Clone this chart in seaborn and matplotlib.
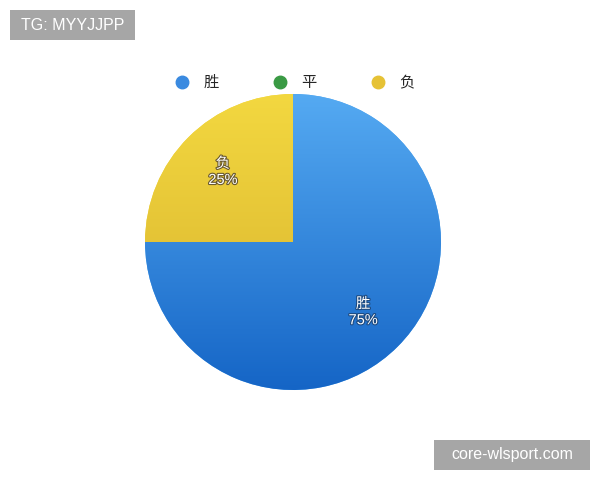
import numpy as np
import matplotlib
matplotlib.use("Agg")
import matplotlib.pyplot as plt
import matplotlib.patheffects as pe
from matplotlib.colors import LinearSegmentedColormap
from matplotlib.lines import Line2D
from matplotlib.patches import Rectangle
import seaborn as sns

# Data
labels = ['胜', '平', '负']
shares = [75, 0, 25]
colors_top = ['#55aaf2', '#3fa34a', '#f3d840']
colors_bottom = ['#1565c6', '#2e8a3a', '#d6b02c']
legend_colors = ['#3a8ae0', '#3a9a44', '#e6c235']

sns.set_theme(style="white")
plt.rcParams['font.family'] = ['Liberation Sans', 'Noto Sans CJK SC', 'DejaVu Sans']

fig = plt.figure(figsize=(6, 4.8), dpi=100)
ax = fig.add_axes([0.2417, 0.1875, 0.4933, 0.6167])

wedges, _ = ax.pie(shares, colors=colors_top, startangle=90, counterclock=False,
                   radius=1, wedgeprops=dict(linewidth=0))
ax.set_xlim(-1, 1)
ax.set_ylim(-1, 1)
ax.set_aspect('equal')
ax.axis('off')

# vertical gradient fill per wedge
grad = np.linspace(0, 1, 256).reshape(-1, 1)
for w, ct, cb, v in zip(wedges, colors_top, colors_bottom, shares):
    if v == 0:
        continue
    cmap = LinearSegmentedColormap.from_list('g', [ct, cb])
    im = ax.imshow(grad, cmap=cmap, extent=(-1, 1, -1, 1), origin='upper',
                   aspect='auto', zorder=2)
    im.set_clip_path(w)

# slice labels
total = sum(shares)
ang = 90.0
for lab, v in zip(labels, shares):
    theta = ang - 360.0 * v / total / 2
    ang -= 360.0 * v / total
    if v == 0:
        continue
    r = 0.67
    x, y = r * np.cos(np.radians(theta)), r * np.sin(np.radians(theta))
    ax.text(x, y, f"{lab}\n{v}%", ha='center', va='center', color='white',
            fontsize=10.5, linespacing=1.2, zorder=5,
            path_effects=[pe.withStroke(linewidth=1.6,
                                        foreground='#6a5a30' if lab == '负' else '#1d4a80')])

# legend
handles = [Line2D([0], [0], marker='o', linestyle='', markersize=9,
                  markerfacecolor=c, markeredgecolor=c) for c in legend_colors]
fig.legend(handles, labels, loc='center', bbox_to_anchor=(0.491, 0.827), ncol=3,
           frameon=False, fontsize=11, columnspacing=3.5, handletextpad=0.9,
           handlelength=1.0)

# watermark boxes
fig.add_artist(Rectangle((10 / 600, 1 - 40 / 480), 125 / 600, 30 / 480,
                         transform=fig.transFigure, facecolor='#a6a6a6', edgecolor='none'))
fig.text(72.5 / 600, 1 - 25 / 480, 'TG: MYYJJPP', color='white', fontsize=11.5,
         ha='center', va='center')
fig.add_artist(Rectangle((434 / 600, 1 - 470 / 480), 156 / 600, 30 / 480,
                         transform=fig.transFigure, facecolor='#a6a6a6', edgecolor='none'))
fig.text(512 / 600, 1 - 455 / 480, 'core-wlsport.com', color='white', fontsize=11.5,
         ha='center', va='center')

fig.savefig('out.png', dpi=100, facecolor='white')
